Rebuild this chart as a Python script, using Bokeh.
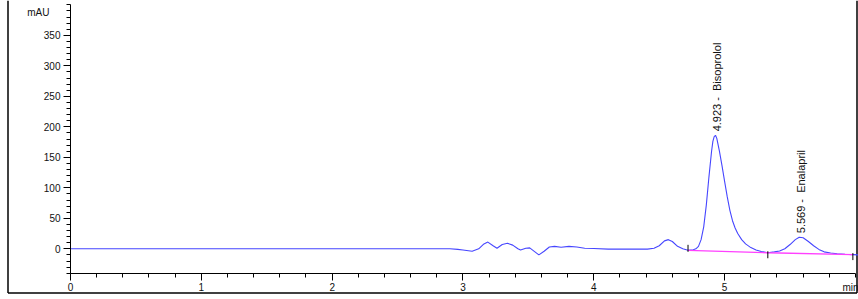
import numpy as np
from bokeh.plotting import figure
from bokeh.models import FixedTicker, Label, ColumnDataSource, LinearAxis, Range1d
from bokeh.core.properties import value
from bokeh.embed import file_html
from bokeh.resources import INLINE

# Chromatogram trace (time in min, signal in mAU)
time_min = [0.00, 0.50, 1.00, 1.50, 2.00, 2.50, 2.90, 2.96, 3.00, 3.07, 3.12, 3.16,
            3.19, 3.23, 3.26, 3.30, 3.34, 3.38, 3.42, 3.44, 3.48, 3.51, 3.55, 3.58,
            3.62, 3.66, 3.70, 3.75, 3.81, 3.87, 3.93, 4.00, 4.11, 4.30, 4.41, 4.46,
            4.50, 4.54, 4.57, 4.60, 4.64, 4.68, 4.72, 4.76, 4.78, 4.80, 4.82, 4.84,
            4.86, 4.88, 4.90, 4.91, 4.92, 4.93, 4.94, 4.96, 4.98, 5.00, 5.02, 5.04,
            5.06, 5.08, 5.10, 5.13, 5.16, 5.20, 5.24, 5.28, 5.33, 5.38, 5.42, 5.46,
            5.50, 5.54, 5.57, 5.60, 5.64, 5.68, 5.72, 5.76, 5.81, 5.86, 5.92, 5.98,
            6.02]
signal_mau = [0.0, 0.0, 0.0, 0.0, 0.0, 0.0, 0.0, -1.0, -2.0, -4.0, 0.0, 8.0,
              11.0, 5.0, 1.0, 7.0, 9.0, 6.0, 0.0, -2.0, 1.0, 1.5, -5.0, -10.0,
              -4.0, 3.0, 4.0, 2.5, 4.0, 3.0, 1.0, 0.5, -0.5, -0.5, -0.5, 1.0,
              5.0, 13.0, 15.0, 12.0, 4.0, 0.0, -2.5, -1.5, 0.0, 4.0, 15.0, 36.0,
              72.0, 118.0, 160.0, 176.0, 184.0, 186.0, 181.0, 160.0, 136.0, 110.0, 85.0, 63.0,
              46.0, 34.0, 25.0, 15.0, 8.0, 2.0, -2.0, -4.5, -6.5, -5.0, -3.5, 0.0,
              7.0, 15.0, 19.0, 18.0, 12.0, 5.0, -1.0, -5.0, -7.0, -8.0, -9.0, -9.5,
              -10.0]

# Integration baseline (magenta) and its boundary marks
base_t = [4.72, 5.33, 5.98]
base_y = [-2.5, -6.5, -9.5]
base_mark_dir = [1, -1, -1]   # mark drawn above (+1) or below (-1) the baseline

# Peak annotations
peak_t = [4.923, 5.569]
peak_h = [186.0, 19.0]
peak_labels = ["4.923 -\u00a0 Bisoprolol", "5.569 -\u00a0 Enalapril"]

y_ticks = [0, 50, 100, 150, 200, 250, 300, 350]
x_ticks = [0, 1, 2, 3, 4, 5]
x_axis_span = (0, 6)
y_axis_span = (-40, 400)

FONT = "Liberation Sans"
W, H = 858, 299

# ---- layout: the frame covers the whole canvas; axes sit at fixed locations
X0_PX, PX_PER_MIN = 70.0, 130.83
Y0_PX, PX_PER_MAU = 248.3, 0.61


def px_to_x(px):
    return (px - X0_PX) / PX_PER_MIN


def px_to_y(py):
    return (Y0_PX - py) / PX_PER_MAU


p = figure(width=W, height=H,
           x_range=Range1d(px_to_x(0), px_to_x(W)),
           y_range=Range1d(px_to_y(H), px_to_y(0)),
           output_backend="svg", toolbar_location=None,
           x_axis_type=None, y_axis_type=None,
           min_border=0, min_border_left=0, min_border_right=0,
           min_border_top=0, min_border_bottom=0)
p.outline_line_color = None
p.xgrid.visible = False
p.ygrid.visible = False
p.background_fill_color = "white"
p.border_fill_color = "white"

xax = LinearAxis(fixed_location=y_axis_span[0], bounds=x_axis_span)
yax = LinearAxis(fixed_location=x_axis_span[0], bounds=y_axis_span)
xax.ticker = FixedTicker(ticks=x_ticks,
                         minor_ticks=[round(i * 0.2, 1) for i in range(31)])
yax.ticker = FixedTicker(ticks=y_ticks, minor_ticks=list(range(-40, 401, 10)))
for ax in (xax, yax):
    ax.axis_line_color = "black"
    ax.major_tick_line_color = "black"
    ax.minor_tick_line_color = "black"
    ax.major_tick_out = 7
    ax.major_tick_in = 0
    ax.minor_tick_out = 4
    ax.minor_tick_in = 0
    ax.major_label_text_font = FONT
    ax.major_label_text_font_size = "10px"
    ax.major_label_text_color = "#111111"
    ax.major_label_standoff = 3
p.add_layout(xax, "below")
p.add_layout(yax, "left")

# outer frame (left, bottom, right)
fl, fr = px_to_x(7.5), px_to_x(856.5)
fb, ft = px_to_y(292.5), px_to_y(0)
p.segment(x0=[fl, fl, fr], y0=[ft, fb, fb], x1=[fl, fr, fr], y1=[fb, fb, ft],
          line_color="black", line_width=1.5)

# trace
p.line(time_min, signal_mau, line_color="#4646ff", line_width=1.1)

# integration baseline
p.line(base_t, base_y, line_color="#ff40ff", line_width=1.4)
mark_main = 5.5 / PX_PER_MAU
mark_back = 1.5 / PX_PER_MAU
p.segment(x0=base_t, y0=[v - d * mark_back for v, d in zip(base_y, base_mark_dir)],
          x1=base_t, y1=[v + d * mark_main for v, d in zip(base_y, base_mark_dir)],
          line_color="black", line_width=1)

# peak labels
src = ColumnDataSource(dict(x=peak_t, y=peak_h, t=peak_labels))
p.text(x="x", y="y", text="t", source=src, angle=np.pi / 2,
       text_align="left", text_baseline="middle", y_offset=-4, x_offset=2,
       text_font=value(FONT), text_font_size="11px", text_color="#111111")

# unit labels
p.add_layout(Label(x=px_to_x(49), y=px_to_y(12), text="mAU", text_align="right",
                   text_baseline="middle", text_font=FONT,
                   text_font_size="10px", text_color="#111111"))
p.add_layout(Label(x=px_to_x(858), y=px_to_y(287), text="min",
                   text_align="right", text_baseline="middle", text_font=FONT,
                   text_font_size="10px", text_color="#111111"))

open("out.html", "w").write(file_html(p, INLINE))
